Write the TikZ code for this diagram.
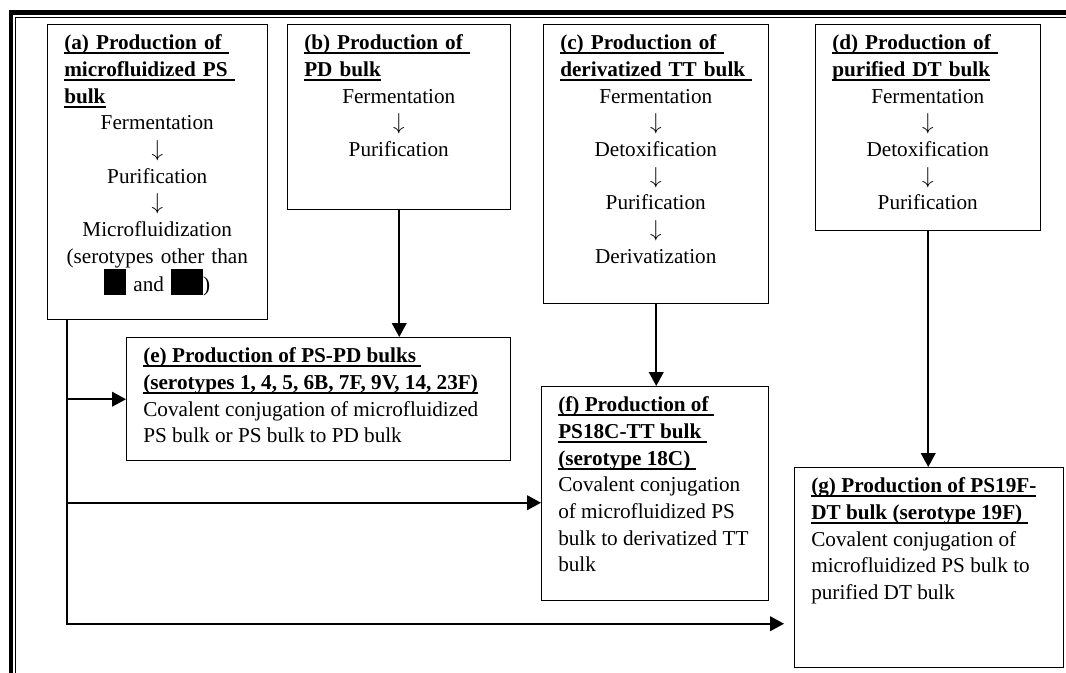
\documentclass[tikz,border=0pt]{standalone}
\usepackage{fontspec}
\setmainfont{Liberation Serif}
\usetikzlibrary{arrows.meta,calc}
\newcommand\ttl[1]{\leavevmode\setbox0=\hbox{\bfseries #1}\rlap{\rule[-3.3pt]{\wd0}{1.6pt}}\box0}
\newcommand\blk[1]{\rule[-2.5pt]{#1}{19.5pt}}
\newcommand\dn{$\downarrow$}
\begin{document}
\begin{tikzpicture}[x=0.75pt,y=-0.75pt,
  boxst/.style={draw, line width=1.1pt, anchor=north west, inner sep=0pt},
  txt/.style={anchor=north west, inner sep=0pt, font=\fontsize{15.9}{20}\selectfont},
  arr/.style={line width=1.5pt, -{Triangle[length=10.5pt,width=11pt]}}]
\useasboundingbox (0,0) rectangle (1066,673);
% outer frame
\draw[line width=3.4pt] (10.8,673) -- (10.8,12.5) -- (1066,12.5);
\draw[line width=0.8pt] (15.6,673) -- (15.6,17.4) -- (1066,17.4);
% boxes
\node[boxst, minimum width=165pt, minimum height=221.25pt] (a) at (47,24) {};
\node[boxst, minimum width=167.25pt, minimum height=138.75pt] (b) at (287,24) {};
\node[boxst, minimum width=168.75pt, minimum height=209.25pt] (c) at (543,24) {};
\node[boxst, minimum width=168.75pt, minimum height=154.5pt] (d) at (815,24) {};
\node[boxst, minimum width=288pt, minimum height=92.25pt] (e) at (126,337) {};
\node[boxst, minimum width=170.25pt, minimum height=160.5pt] (f) at (541,386) {};
\node[boxst, minimum width=201.75pt, minimum height=150pt] (g) at (794,467) {};
% texts
\node[txt, text width=139.5pt] (at) at ($(a.north west)+(17,7)$) {\raggedright\strut\ttl{(a) Production of\ }\\\ttl{microfluidized PS\ }\\\ttl{bulk}\par
\centering Fermentation\\\dn\\Purification\\\dn\\Microfluidization\\(serotypes other than\\\blk{16.5pt} and \blk{24pt})\par};
\node[txt, text width=141.75pt] (bt) at ($(b.north west)+(17,7)$) {\raggedright\strut\ttl{(b) Production of\ }\\\ttl{PD bulk}\par
\centering Fermentation\\\dn\\Purification\par};
\node[txt, text width=143.25pt] (ct) at ($(c.north west)+(17,7)$) {\raggedright\strut\ttl{(c) Production of\ }\\\ttl{derivatized TT bulk\ }\par
\centering Fermentation\\\dn\\Detoxification\\\dn\\Purification\\\dn\\Derivatization\par};
\node[txt, text width=143.25pt] (dt) at ($(d.north west)+(17,7)$) {\raggedright\strut\ttl{(d) Production of\ }\\\ttl{purified DT bulk}\par
\centering Fermentation\\\dn\\Detoxification\\\dn\\Purification\par};
\node[txt, align=left] (et) at ($(e.north west)+(17,7)$) {\strut\ttl{(e) Production of PS-PD bulks\ }\\\ttl{(serotypes 1, 4, 5, 6B, 7F, 9V, 14, 23F)}\\Covalent conjugation of microfluidized\\PS bulk or PS bulk to PD bulk};
\node[txt, align=left] (ft) at ($(f.north west)+(17,7)$) {\strut\ttl{(f) Production of\ }\\\ttl{PS18C-TT bulk\ }\\\ttl{(serotype 18C)\ }\\Covalent conjugation\\of microfluidized PS\\bulk to derivatized TT\\bulk};
\node[txt, align=left] (gt) at ($(g.north west)+(17,7)$) {\strut\ttl{(g) Production of PS19F-}\\\ttl{DT bulk (serotype 19F)\ }\\Covalent conjugation of\\microfluidized PS bulk to\\purified DT bulk};
% connectors
\draw[arr] (b.south) -- (b.south |- e.north);
\draw[arr] (c.south) -- (c.south |- f.north);
\draw[arr] (d.south) -- (d.south |- g.north);
\coordinate (t0) at ($(a.south west)+(20,0)$);
\coordinate (fin) at ($(f.west)+(0,9)$);
\coordinate (gin) at ($(g.west)+(-10,56)$);
\draw[arr] (t0) |- (e.west);
\draw[arr] (t0) |- (fin);
\draw[arr] (t0) |- (gin);
\end{tikzpicture}
\end{document}
